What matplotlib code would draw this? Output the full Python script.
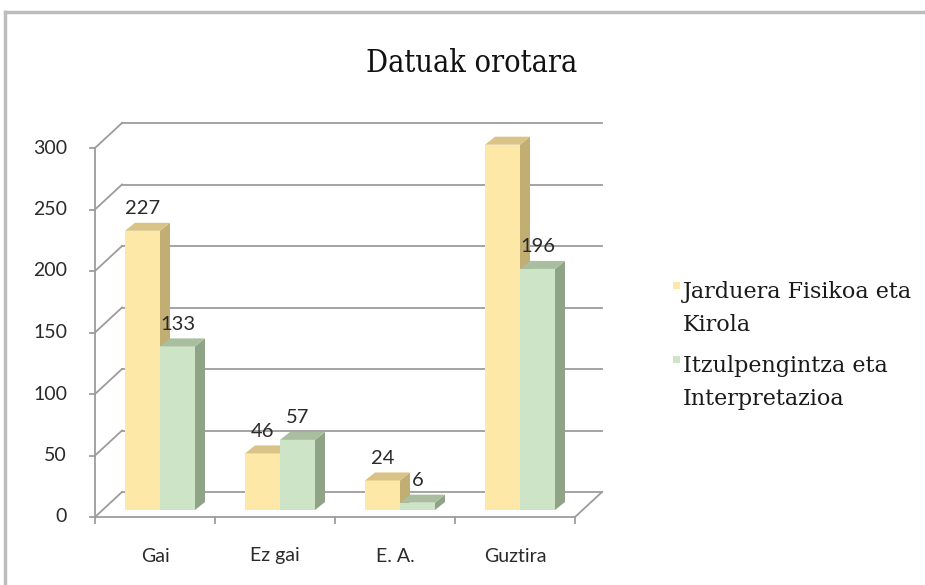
import matplotlib
matplotlib.use("Agg")
import matplotlib.pyplot as plt
from matplotlib.patches import Polygon, Rectangle
from matplotlib.lines import Line2D

categories = ["Gai", "Ez gai", "E. A.", "Guztira"]
series_lines = [["Jarduera Fisikoa eta", "Kirola"], ["Itzulpengintza eta", "Interpretazioa"]]
jarduera = [227, 46, 24, 297]
itzulpen = [133, 57, 6, 196]
yticks = [0, 50, 100, 150, 200, 250, 300]

front_cols = ["#FDE8A8", "#CEE4C6"]
side_cols = ["#C2AD73", "#8FA386"]
top_cols = ["#D9C386", "#A9BE9F"]
txt_c = "#2A2A2A"
sans = "Lato"

W, H = 925, 585
fig = plt.figure(figsize=(W / 100, H / 100), dpi=100)

# front plot rectangle in pixels
x0p, x1p = 95, 575
y0p, y1p = 517, 148
ax = fig.add_axes([x0p / W, 1 - y0p / H, (x1p - x0p) / W, (y0p - y1p) / H])
ax.set_xlim(-0.5, len(categories) - 0.5)
ax.set_ylim(0, 300)
ax.axis("off")

sx = (len(categories)) / (x1p - x0p)   # data per px (x)
sy = 300 / (y0p - y1p)                   # data per px (y)

# depth vector (px) of floor
DX, DY = 27, 25
grid_c = "#9C9C9C"
lw = 1.3

for t in yticks:
    ax.plot([-0.5 + DX * sx, len(categories) - 0.5 + DX * sx], [t + DY * sy, t + DY * sy],
            color=grid_c, lw=lw, clip_on=False, zorder=1)
    ax.plot([-0.5, -0.5 + DX * sx], [t, t + DY * sy], color=grid_c, lw=lw, clip_on=False, zorder=1)
    ax.plot([-0.5 - 5 * sx, -0.5], [t, t], color=grid_c, lw=lw, clip_on=False, zorder=1)
    ax.text(-0.5 - 28 * sx, t, str(t), ha="right", va="center", fontsize=14,
            family=sans, color=txt_c)
ax.plot([-0.5, -0.5], [0, 300], color=grid_c, lw=lw, clip_on=False, zorder=1)
ax.plot([-0.5, len(categories) - 0.5], [0, 0], color=grid_c, lw=lw, clip_on=False, zorder=1)
ax.plot([len(categories) - 0.5, len(categories) - 0.5 + DX * sx], [0, DY * sy],
        color=grid_c, lw=lw, clip_on=False, zorder=1)
for i in range(len(categories) + 1):
    ax.plot([i - 0.5, i - 0.5], [0, -6 * sy], color=grid_c, lw=lw, clip_on=False, zorder=1)
for i, c in enumerate(categories):
    ax.text(i, -39 * sy, c, ha="center", va="center", fontsize=14,
            family=sans, color=txt_c)

# bars
bw = 35 * sx
fdx, fdy = 5 * sx, 7 * sy       # front face depth offset
bdx, bdy = 10 * sx, 8 * sy      # bar depth
for s, vals in enumerate([jarduera, itzulpen]):
    xs = [i + fdx + (s - 0.5) * bw for i in range(len(categories))]
    ax.bar(xs, vals, width=bw, bottom=fdy, color=front_cols[s], zorder=3 + s, clip_on=False)
    for x, v in zip(xs, vals):
        xl, xr = x - bw / 2, x + bw / 2
        top = v + fdy
        ax.add_patch(Polygon([(xr, fdy), (xr + bdx, fdy + bdy), (xr + bdx, top + bdy), (xr, top)],
                             closed=True, facecolor=side_cols[s], edgecolor="none",
                             zorder=3 + s, clip_on=False))
        ax.add_patch(Polygon([(xl, top), (xl + bdx, top + bdy), (xr + bdx, top + bdy), (xr, top)],
                             closed=True, facecolor=top_cols[s], edgecolor="none",
                             zorder=3 + s, clip_on=False))
        ax.annotate(str(v), (x, top + bdy), xytext=(0, 4), textcoords="offset points",
                    ha="center", va="bottom", fontsize=14.5, family=sans,
                    color=txt_c, zorder=10)

# title
fig.text(472 / W, 1 - 72 / H, "Datuak orotara", ha="center", va="baseline", fontsize=22,
         family="DejaVu Serif", fontstretch="condensed", color="#111111")

# legend (manual)
leg_rows = [(292, 325), (366, 399)]
for s, (lines, ys) in enumerate(zip(series_lines, leg_rows)):
    fig.add_artist(Rectangle((673 / W, 1 - (ys[0] - 3) / H), 7 / W, 7 / H,
                             transform=fig.transFigure, facecolor=front_cols[s],
                             edgecolor="none"))
    for line, yy in zip(lines, ys):
        fig.text(683 / W, 1 - yy / H, line, ha="left", va="center", fontsize=16,
                 family="DejaVu Serif", color="#1A1A1A")

# outer frame
fig.add_artist(Line2D([5 / W, 5 / W], [0, 1 - 12 / H], transform=fig.transFigure,
                      color="#BDBDBD", lw=2.5))
fig.add_artist(Line2D([5 / W, 1], [1 - 12 / H, 1 - 12 / H], transform=fig.transFigure,
                      color="#BDBDBD", lw=2.5))

fig.savefig("out.png", dpi=100)
